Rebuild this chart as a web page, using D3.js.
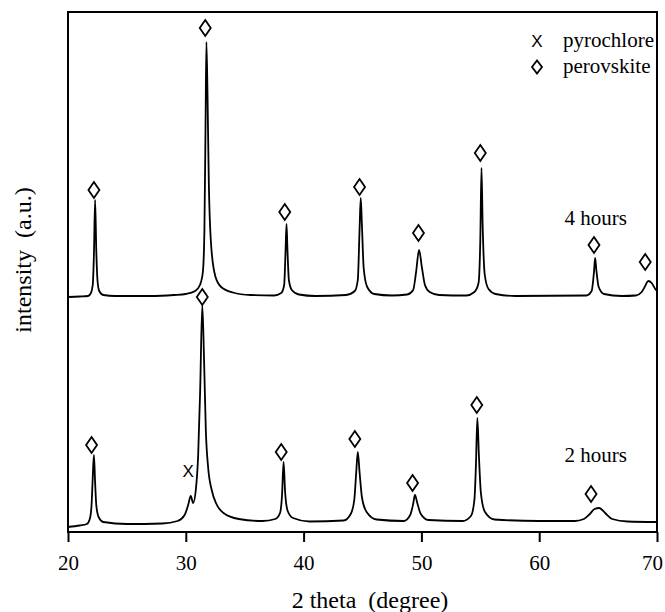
<!DOCTYPE html>
<html>
<head>
<meta charset="utf-8">
<script src="https://cdn.jsdelivr.net/npm/d3@7"></script>
<style>
  body { margin: 0; background: #fff; }
  svg { display: block; }
  text { fill: #000; }
</style>
</head>
<body>
<svg width="665" height="612"></svg>
<script>
// 2 theta (deg) vs intensity (a.u.)
const trace4h = [
  [20.0,235],[21.0,235.5],[21.7,236],[21.95,239],[22.1,247],[22.2,277],[22.3,332],[22.4,282],
  [22.5,252],[22.65,241],[23.0,237],[24.0,236],[27.0,236],[29.0,237],[30.0,238],[30.8,241],
  [31.2,247],[31.45,260],[31.58,302],[31.68,412],[31.75,490],[31.85,432],[31.95,352],[32.15,287],
  [32.5,256],[33.0,245],[34.0,239.5],[35.5,237],[37.5,236.5],[38.1,239],[38.35,247],[38.47,282],
  [38.55,308],[38.63,282],[38.75,252],[39.0,242],[39.6,237.5],[41.0,236],[43.6,237],[44.35,241],
  [44.6,252],[44.75,302],[44.85,334],[44.95,307],[45.1,264],[45.4,245],[46.0,238],[47.5,236.5],
  [48.8,237.5],[49.3,242],[49.55,260],[49.8,282],[50.05,264],[50.3,247],[50.7,240],[51.5,237],
  [53.8,236.5],[54.5,240],[54.85,249],[55.0,292],[55.1,364],[55.2,307],[55.38,257],[55.7,243],
  [56.3,238],[58.0,236],[64.0,236.5],[64.45,241],[64.65,260],[64.75,274],[64.85,262],[65.05,245],
  [65.5,238],[67.0,236],[68.2,236.5],[68.7,240],[69.0,246],[69.25,251],[69.55,249],[69.85,243],
  [70.0,241]
];

const trace2h = [
  [20.0,5],[21.0,6.5],[21.6,8],[21.85,13],[22.0,27],[22.1,54],[22.2,77],[22.3,50],[22.4,27],
  [22.6,15],[23.0,10],[25.0,8],[28.0,8.5],[29.3,11],[29.9,17],[30.2,27],[30.42,36],[30.62,29],
  [30.85,42],[31.05,77],[31.22,142],[31.4,227],[31.55,172],[31.7,102],[31.9,64],[32.2,42],
  [32.6,28],[33.2,19],[34.5,13],[36.5,11],[37.6,13],[38.0,19],[38.17,37],[38.3,70],[38.43,40],
  [38.65,21],[39.1,14],[40.5,10.5],[43.4,11.5],[44.0,18],[44.3,32],[44.47,60],[44.6,80],
  [44.75,60],[44.95,35],[45.35,20],[46.2,12.5],[48.5,11],[49.05,17],[49.3,28],[49.45,37],
  [49.65,29],[49.95,18],[50.6,12],[53.5,11],[54.2,16],[54.5,32],[54.63,67],[54.75,114],
  [54.88,77],[55.05,39],[55.4,20],[56.2,12.5],[60.0,11],[63.0,11],[63.8,13],[64.3,18],
  [64.7,23],[65.1,24],[65.6,19],[66.2,13],[67.5,10.5],[70.0,10]
];

// phase markers [2 theta, height]
const perovskite4h = [[22.2,342],[31.65,504],[38.4,320],[44.75,345],[49.75,299],[55.0,379],[64.65,287],[69.0,270]];
const perovskite2h = [[22.0,87],[31.4,235],[38.1,80],[44.35,93],[49.25,49],[54.7,127],[64.4,38]];
const pyrochlore2h = [[30.2,61]];

const xTicks = [20, 30, 40, 50, 60, 70];
const traceLabels = [{text: "4 hours", x: 64.8, y: 314}, {text: "2 hours", x: 64.8, y: 77}];
const legendItems = [{symbol: "x", text: "pyrochlore"}, {symbol: "diamond", text: "perovskite"}];

const serif = "'Liberation Serif', 'Times New Roman', serif";
const sans = "'Liberation Sans', Arial, sans-serif";

const svg = d3.select("svg");
const plotLeft = 68, plotRight = 657, plotTop = 12, plotBottom = 532;

const x = d3.scaleLinear().domain([20, 70]).range([plotLeft, plotRight]);
const y = d3.scaleLinear().domain([0, 520]).range([plotBottom, plotTop]);

const line = d3.line()
  .x(d => x(d[0]))
  .y(d => y(d[1]))
  .curve(d3.curveMonotoneX);

// traces
svg.append("g").selectAll("path")
  .data([trace4h, trace2h])
  .enter().append("path")
  .attr("d", line)
  .attr("fill", "none")
  .attr("stroke", "#000")
  .attr("stroke-width", 1.8)
  .attr("stroke-linejoin", "round");

// frame
svg.append("rect")
  .attr("x", plotLeft).attr("y", plotTop)
  .attr("width", plotRight - plotLeft).attr("height", plotBottom - plotTop)
  .attr("fill", "none").attr("stroke", "#000").attr("stroke-width", 2);

// x axis ticks + labels
const xAxis = d3.axisBottom(x).tickValues(xTicks).tickSize(10).tickPadding(13).tickSizeOuter(0);
const gx = svg.append("g").attr("transform", `translate(0,${plotBottom})`).call(xAxis);
gx.select(".domain").remove();
gx.selectAll(".tick line").attr("stroke", "#000").attr("stroke-width", 2);
gx.selectAll(".tick text")
  .style("font-family", serif)
  .style("font-size", "21px")
  .attr("fill", "#000")
  .attr("dx", d => d === 70 ? -5 : 0);

// axis titles
svg.append("text")
  .attr("x", 370).attr("y", 608)
  .attr("text-anchor", "middle")
  .style("font-family", serif)
  .style("font-size", "24px")
  .attr("xml:space", "preserve")
  .text("2 theta  (degree)");

svg.append("text")
  .attr("transform", "translate(31,260) rotate(-90)")
  .attr("text-anchor", "middle")
  .style("font-family", serif)
  .style("font-size", "24px")
  .attr("xml:space", "preserve")
  .text("intensity  (a.u.)");

// diamond marker path
function diamond(w, h) {
  return `M0,${-h / 2}L${w / 2},0L0,${h / 2}L${-w / 2},0Z`;
}

svg.append("g").selectAll("path")
  .data(perovskite4h.concat(perovskite2h))
  .enter().append("path")
  .attr("transform", d => `translate(${x(d[0])},${y(d[1])})`)
  .attr("d", diamond(11, 16))
  .attr("fill", "#fff")
  .attr("stroke", "#000")
  .attr("stroke-width", 1.8);

svg.append("g").selectAll("text")
  .data(pyrochlore2h)
  .enter().append("text")
  .attr("x", d => x(d[0]))
  .attr("y", d => y(d[1]) + 6)
  .attr("text-anchor", "middle")
  .style("font-family", sans)
  .style("font-size", "17px")
  .text("X");

// trace labels
svg.append("g").selectAll("text")
  .data(traceLabels)
  .enter().append("text")
  .attr("x", d => x(d.x))
  .attr("y", d => y(d.y) + 7)
  .attr("text-anchor", "middle")
  .style("font-family", serif)
  .style("font-size", "21px")
  .text(d => d.text);

// legend
const legend = svg.append("g").attr("transform", "translate(537,41)");
const item = legend.selectAll("g")
  .data(legendItems)
  .enter().append("g")
  .attr("transform", (d, i) => `translate(0,${i * 26})`);

item.filter(d => d.symbol === "x").append("text")
  .attr("y", 6)
  .attr("text-anchor", "middle")
  .style("font-family", sans)
  .style("font-size", "17px")
  .text("X");

item.filter(d => d.symbol === "diamond").append("path")
  .attr("d", diamond(10, 13))
  .attr("fill", "#fff")
  .attr("stroke", "#000")
  .attr("stroke-width", 1.8);

item.append("text")
  .attr("x", 26)
  .attr("y", 6)
  .style("font-family", serif)
  .style("font-size", "21px")
  .text(d => d.text);
</script>
</body>
</html>
